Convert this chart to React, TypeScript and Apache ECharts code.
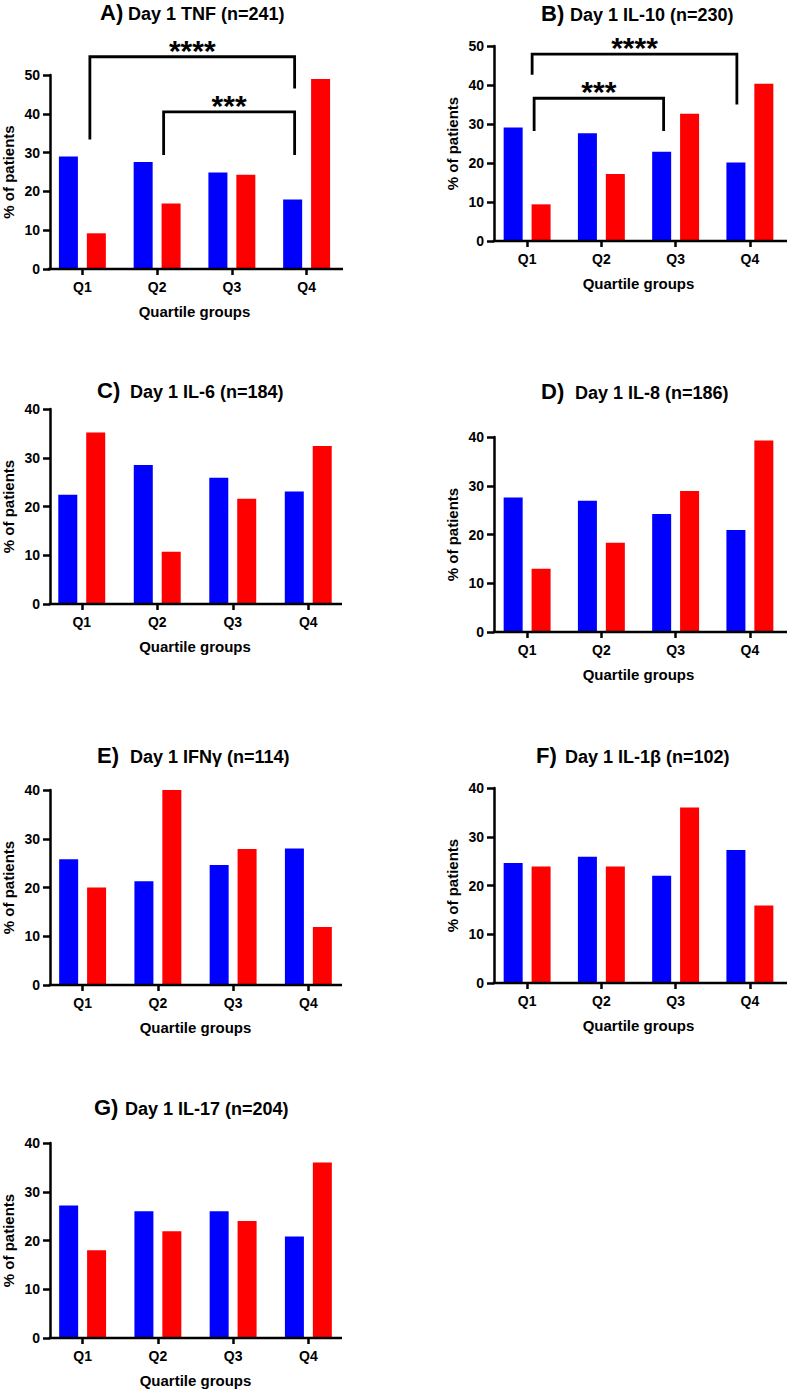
import React, { useEffect, useRef } from "react";
import * as echarts from "echarts";

// ---------- data ----------
const categories = ["Q1", "Q2", "Q3", "Q4"];

const tnfBlue = [29.0, 27.6, 24.9, 17.9];
const tnfRed = [9.2, 16.9, 24.3, 49.0];

const il10Blue = [29.1, 27.6, 22.9, 20.1];
const il10Red = [9.4, 17.2, 32.6, 40.3];

const il6Blue = [22.4, 28.5, 25.9, 23.1];
const il6Red = [35.2, 10.7, 21.6, 32.4];

const il8Blue = [27.6, 26.9, 24.2, 20.9];
const il8Red = [13.0, 18.3, 28.9, 39.3];

const ifngBlue = [25.8, 21.3, 24.6, 28.0];
const ifngRed = [20.0, 40.0, 27.9, 11.9];

const il1bBlue = [24.6, 25.9, 22.0, 27.3];
const il1bRed = [23.9, 23.9, 36.0, 15.9];

const il17Blue = [27.2, 26.0, 26.0, 20.8];
const il17Red = [18.0, 21.9, 24.0, 36.0];

const letters = ["A)", "B)", "C)", "D)", "E)", "F)", "G)"];
const titles = [
  "Day 1 TNF (n=241)",
  "Day 1 IL-10 (n=230)",
  "Day 1 IL-6 (n=184)",
  "Day 1 IL-8 (n=186)",
  "Day 1 IFNγ (n=114)",
  "Day 1 IL-1β (n=102)",
  "Day 1 IL-17 (n=204)",
];
const yMaxes = [50, 50, 40, 40, 40, 40, 40];

// significance brackets: level / end values in % units
const tnfBrackets = [
  { from: 0, to: 3, level: 54.7, fromEnd: 33.4, toEnd: 46.5, label: "****", fromDx: 7.5, toDx: -12 },
  { from: 1, to: 3, level: 40.5, fromEnd: 29.4, toEnd: 29.4, label: "***", fromDx: 6.5, toDx: -12 },
];
const il10Brackets = [
  { from: 0, to: 3, level: 47.9, fromEnd: 42.6, toEnd: 35.0, label: "****", fromDx: 5, toDx: -13 },
  { from: 0, to: 2, level: 36.6, fromEnd: 28.2, toEnd: 28.2, label: "***", fromDx: 7, toDx: -12 },
];

const blueSeries = [tnfBlue, il10Blue, il6Blue, il8Blue, ifngBlue, il1bBlue, il17Blue];
const redSeries = [tnfRed, il10Red, il6Red, il8Red, ifngRed, il1bRed, il17Red];
const bracketSets = [tnfBrackets, il10Brackets, [], [], [], [], []];

// ---------- layout ----------
const layouts = [
  { left: 44, top: 75, width: 300, height: 194, axisX: 49, axisEnd: 343, letterX: 100, textX: 128, titleY: 13.5 },
  { left: 490, top: 46, width: 301, height: 195, axisX: 494, axisEnd: 790, letterX: 541, textX: 570, titleY: 14.5 },
  { left: 44, top: 409, width: 302, height: 195, axisX: 50, axisEnd: 342, letterX: 97, textX: 130, titleY: 392 },
  { left: 490, top: 437, width: 301, height: 195, axisX: 494, axisEnd: 790, letterX: 541, textX: 575, titleY: 393 },
  { left: 45, top: 790, width: 301, height: 195, axisX: 50, axisEnd: 342, letterX: 97, textX: 130, titleY: 757 },
  { left: 490, top: 788, width: 301, height: 195, axisX: 494, axisEnd: 790, letterX: 536, textX: 565, titleY: 757 },
  { left: 45, top: 1143, width: 301, height: 195, axisX: 50, axisEnd: 342, letterX: 94, textX: 125, titleY: 1109 },
];

const FONT = "'Liberation Sans', Arial, Helvetica, sans-serif";
const BLUE = "#0000FF";
const RED = "#FF0000";
const LW = 2.5;

export default function App() {
  const ref = useRef<HTMLDivElement>(null);

  useEffect(() => {
    document.body.style.margin = "0";
    const el = ref.current;
    if (!el) return;
    const chart = echarts.init(el, null, { renderer: "svg" });

    const grids = layouts.map((l) => ({
      left: l.left,
      top: l.top,
      width: l.width,
      height: l.height,
      containLabel: false,
    }));

    const xAxes = layouts.map((l, i) => ({
      type: "category",
      gridIndex: i,
      data: categories,
      axisLine: { show: false },
      axisTick: {
        show: true,
        alignWithLabel: true,
        length: 6,
        lineStyle: { color: "#000", width: LW },
      },
      axisLabel: {
        color: "#000",
        fontSize: 14,
        fontWeight: "bold",
        fontFamily: FONT,
        margin: 11,
      },
      name: "Quartile groups",
      nameLocation: "middle",
      nameGap: 35,
      nameTextStyle: { color: "#000", fontSize: 15, fontWeight: "bold", fontFamily: FONT },
      splitLine: { show: false },
    }));

    const yAxes = layouts.map((l, i) => ({
      type: "value",
      gridIndex: i,
      min: 0,
      max: yMaxes[i],
      interval: 10,
      offset: l.left - l.axisX,
      axisLine: { show: true, lineStyle: { color: "#000", width: LW } },
      axisTick: { show: true, length: 7, lineStyle: { color: "#000", width: LW } },
      axisLabel: {
        color: "#000",
        fontSize: 14,
        fontWeight: "bold",
        fontFamily: FONT,
        margin: 10,
      },
      splitLine: { show: false },
      name: "% of patients",
      nameLocation: "middle",
      nameRotate: 90,
      nameGap: 34,
      nameTextStyle: { color: "#000", fontSize: 15, fontWeight: "bold", fontFamily: FONT },
    }));

    const series: any[] = [];
    blueSeries.forEach((b, i) => {
      series.push({
        type: "bar",
        xAxisIndex: i,
        yAxisIndex: i,
        data: b,
        barWidth: 19,
        barGap: "47%",
        itemStyle: { color: BLUE },
      });
      series.push({
        type: "bar",
        xAxisIndex: i,
        yAxisIndex: i,
        data: redSeries[i],
        barWidth: 19,
        barGap: "47%",
        itemStyle: { color: RED },
      });
    });

    chart.setOption({
      animation: false,
      textStyle: { fontFamily: FONT },
      grid: grids,
      xAxis: xAxes,
      yAxis: yAxes,
      series,
    });

    const graphics: any[] = [];
    layouts.forEach((l, i) => {
      // title
      graphics.push({
        type: "text",
        x: l.letterX,
        y: l.titleY - 1.5,
        z: 100,
        style: {
          text: letters[i],
          fill: "#000",
          font: `bold 22px ${FONT}`,
          align: "left",
          verticalAlign: "middle",
        },
      });
      graphics.push({
        type: "text",
        x: l.textX,
        y: l.titleY,
        z: 100,
        style: {
          text: titles[i],
          fill: "#000",
          font: `bold 18px ${FONT}`,
          align: "left",
          verticalAlign: "middle",
        },
      });
      // x axis baseline from y-axis to end
      const zero = chart.convertToPixel({ gridIndex: i } as any, [0, 0]) as number[];
      graphics.push({
        type: "line",
        z: 100,
        shape: { x1: l.axisX - LW / 2, y1: zero[1], x2: l.axisEnd, y2: zero[1] },
        style: { stroke: "#000", lineWidth: LW },
      });
      // brackets
      bracketSets[i].forEach((b: any) => {
        const p1 = chart.convertToPixel({ gridIndex: i } as any, [b.from, b.level]) as number[];
        const p2 = chart.convertToPixel({ gridIndex: i } as any, [b.to, b.level]) as number[];
        const e1 = chart.convertToPixel({ gridIndex: i } as any, [b.from, b.fromEnd]) as number[];
        const e2 = chart.convertToPixel({ gridIndex: i } as any, [b.to, b.toEnd]) as number[];
        const x1 = p1[0] + b.fromDx;
        const x2 = p2[0] + b.toDx;
        graphics.push({
          type: "polyline",
          z: 100,
          shape: {
            points: [
              [x1, e1[1]],
              [x1, p1[1]],
              [x2, p2[1]],
              [x2, e2[1]],
            ],
          },
          style: { stroke: "#000", lineWidth: LW + 0.3, fill: null, lineJoin: "miter" },
        });
        graphics.push({
          type: "text",
          z: 100,
          x: (x1 + x2) / 2,
          y: p1[1] - 6.5,
          style: {
            text: b.label,
            fill: "#000",
            font: `bold 30px ${FONT}`,
            align: "center",
            verticalAlign: "middle",
          },
        });
      });
    });

    chart.setOption({ graphic: graphics });

    return () => {
      chart.dispose();
    };
  }, []);

  return <div ref={ref} style={{ width: 787, height: 1390 }} />;
}
